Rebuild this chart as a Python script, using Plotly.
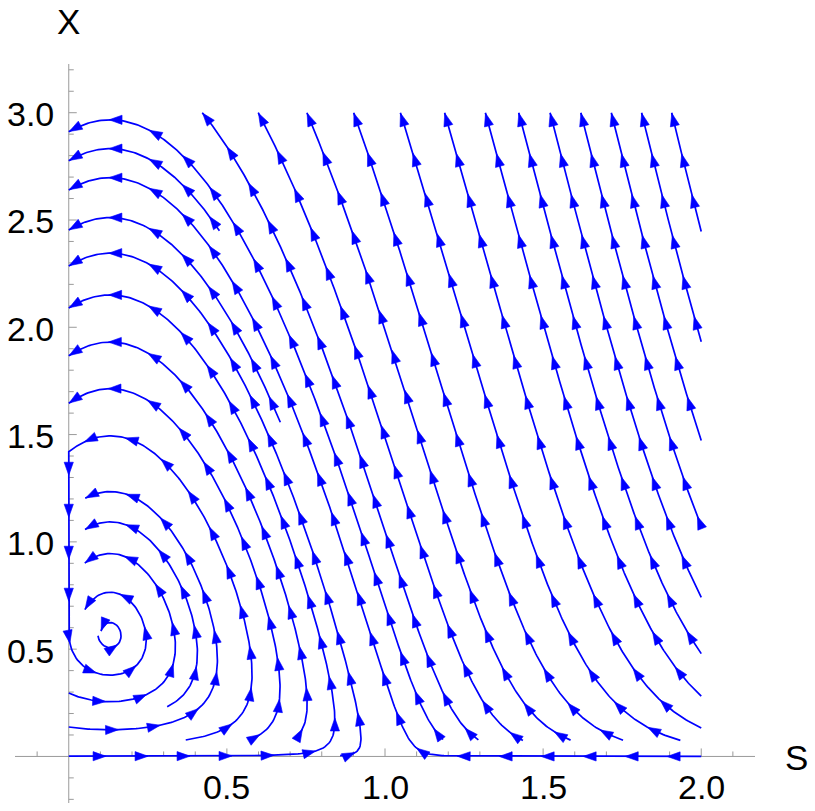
import math
import numpy as np
import plotly.graph_objects as go

# ---------------- values ----------------
s_axis_range = [-0.17, 2.17]          # extent of the horizontal (S) axis
x_axis_range = [-0.217, 3.227]        # extent of the vertical (X) axis
stream_s_range = [0.0, 2.0]           # region covered by streamlines
stream_x_range = [0.0, 3.0]

s_tick_values = [0.5, 1.0, 1.5, 2.0]
s_tick_labels = ["0.5", "1.0", "1.5", "2.0"]
x_tick_values = [0.5, 1.0, 1.5, 2.0, 2.5, 3.0]
x_tick_labels = ["0.5", "1.0", "1.5", "2.0", "2.5", "3.0"]
s_minor_ticks = [-0.1, 0.1, 0.2, 0.3, 0.4, 0.6, 0.7, 0.8, 0.9, 1.1, 1.2, 1.3, 1.4,
                 1.6, 1.7, 1.8, 1.9, 2.1]
x_minor_ticks = [-0.2, -0.1, 0.1, 0.2, 0.3, 0.4, 0.6, 0.7, 0.8, 0.9, 1.1, 1.2, 1.3, 1.4,
                 1.6, 1.7, 1.8, 1.9, 2.1, 2.2, 2.3, 2.4, 2.6, 2.7, 2.8, 2.9, 3.1, 3.2]

# vector field estimated from the streamline directions:
#   dS/dt = 1 - S^2 - a*X        dX/dt = X*(c*S - d)
field_a = 1.73
field_c = 9.0
field_d = 1.18

# streamlines whose start can be read in the picture (traced in this order)
seed_s = [0.33, 1.999, 0.0]
seed_x = [0.0013, 0.000001, 1.42]
seed_slides_on_axis = [False, False, True]

# ---------------- layout geometry ----------------
W, H = 815, 811
ML, MR, MT, MB = 14.7, 60.1, 64.0, 7.9
PW = W - ML - MR
PH = H - MT - MB
KX = PW / (s_axis_range[1] - s_axis_range[0])   # px per unit S
KY = PH / (x_axis_range[1] - x_axis_range[0])   # px per unit X

U_MAX = stream_s_range[1] * KX
W_MAX = stream_x_range[1] * KY
S_EQ = field_d / field_c
X_EQ = (1 - S_EQ ** 2) / field_a
U_EQ, W_EQ = S_EQ * KX, X_EQ * KY

D_SEP = 29.0
D_TEST = 16.0
STEP = 1.0
SELF_GAP = 70.0
MAX_STEPS = 6000
MIN_LEN = 22.0


def vel(u, w, sign, slide):
    S = u / KX
    X = w / KY
    dS = 1 - S * S - field_a * X
    dX = X * (field_c * S - field_d)
    vu = sign * dS * KX
    vw = sign * dX * KY
    if slide and u <= 1e-9 and vu < 0:
        vu = 0.0
    n = math.hypot(vu, vw)
    if n < 1e-12:
        return (0.0, 0.0)
    return (vu / n, vw / n)


def rk4(u, w, sign, slide):
    k1 = vel(u, w, sign, slide)
    if k1 == (0.0, 0.0):
        return None
    h = STEP
    cl = (lambda x: max(x, 0.0)) if slide else (lambda x: x)
    k2 = vel(cl(u + 0.5 * h * k1[0]), w + 0.5 * h * k1[1], sign, slide)
    k3 = vel(cl(u + 0.5 * h * k2[0]), w + 0.5 * h * k2[1], sign, slide)
    k4 = vel(cl(u + h * k3[0]), w + h * k3[1], sign, slide)
    nu = u + h / 6 * (k1[0] + 2 * k2[0] + 2 * k3[0] + k4[0])
    nw = w + h / 6 * (k1[1] + 2 * k2[1] + 2 * k3[1] + k4[1])
    if slide:
        nu = max(nu, 0.0)
    return nu, nw


class Grid:
    def __init__(self, cell):
        self.cell = cell
        self.cells = {}

    def add(self, u, w, lid, s):
        key = (int(u // self.cell), int(w // self.cell))
        self.cells.setdefault(key, []).append((u, w, lid, s))

    def near(self, u, w, r, s=None, gap=None):
        ci, cj = int(u // self.cell), int(w // self.cell)
        r2 = r * r
        for i in (ci - 1, ci, ci + 1):
            for j in (cj - 1, cj, cj + 1):
                for (pu, pw, plid, ps) in self.cells.get((i, j), ()):
                    if (pu - u) ** 2 + (pw - w) ** 2 < r2:
                        if gap is not None and abs(ps - s) < gap:
                            continue
                        return True
        return False


grid = Grid(D_SEP)
lines = []


def in_domain(u, w):
    return 0.0 <= u <= U_MAX and 0.0 <= w <= W_MAX


def integrate(u0, w0, sign, slide, own, s_sign):
    pts = []
    u, w = u0, w0
    s = 0.0
    for _ in range(MAX_STEPS):
        r = rk4(u, w, sign, slide)
        if r is None:
            break
        nu, nw = r
        if not in_domain(nu, nw):
            t = 1.0
            du, dw = nu - u, nw - w
            if nu < 0 and du != 0:
                t = min(t, (0 - u) / du)
            if nu > U_MAX and du != 0:
                t = min(t, (U_MAX - u) / du)
            if nw < 0 and dw != 0:
                t = min(t, (0 - w) / dw)
            if nw > W_MAX and dw != 0:
                t = min(t, (W_MAX - w) / dw)
            pts.append((u + t * du, w + t * dw))
            break
        s += STEP
        if math.hypot(nu - U_EQ, nw - W_EQ) < 3.0:
            break
        if grid.near(nu, nw, D_TEST):
            break
        if own.near(nu, nw, D_TEST, s_sign * s, SELF_GAP):
            break
        pts.append((nu, nw))
        own.add(nu, nw, -1, s_sign * s)
        u, w = nu, nw
    return pts


def trace(u0, w0, slide=False):
    own = Grid(D_SEP)
    own.add(u0, w0, -1, 0.0)
    fwd = integrate(u0, w0, +1, slide, own, +1)
    bwd = integrate(u0, w0, -1, False, own, -1)
    return bwd[::-1] + [(u0, w0)] + fwd


def length(pts):
    a = np.asarray(pts)
    if len(a) < 2:
        return 0.0
    return float(np.hypot(*np.diff(a, axis=0).T).sum())


def add_line(pts):
    lid = len(lines)
    lines.append(pts)
    for (u, w) in pts:
        grid.add(u, w, lid, 0.0)
    return lid


queue = []
for s0, x0, sl in zip(seed_s, seed_x, seed_slides_on_axis):
    u0, w0 = s0 * KX, x0 * KY
    pts = trace(u0, w0, slide=sl)
    if length(pts) >= MIN_LEN:
        queue.append(add_line(pts))


def run_queue():
    while queue:
        lid = queue.pop(0)
        pts = lines[lid]
        n = len(pts)
        for k in range(2, n - 2, 4):
            tu = pts[k + 2][0] - pts[k - 2][0]
            tw = pts[k + 2][1] - pts[k - 2][1]
            tn = math.hypot(tu, tw)
            if tn < 1e-9:
                continue
            nu_, nw_ = -tw / tn, tu / tn
            for sg in (1, -1):
                cu = pts[k][0] + sg * D_SEP * nu_
                cw = pts[k][1] + sg * D_SEP * nw_
                if not (1.0 < cu < U_MAX - 1.0 and 1.0 < cw < W_MAX - 1.0):
                    continue
                if grid.near(cu, cw, D_SEP * 0.98):
                    continue
                if math.hypot(cu - U_EQ, cw - W_EQ) < 6:
                    continue
                newp = trace(cu, cw)
                if length(newp) >= MIN_LEN:
                    queue.append(add_line(newp))


run_queue()
for gu in np.arange(6.0, U_MAX, 14.0):
    for gw in np.arange(6.0, W_MAX, 14.0):
        if grid.near(gu, gw, D_SEP * 0.98):
            continue
        if math.hypot(gu - U_EQ, gw - W_EQ) < 6:
            continue
        newp = trace(gu, gw)
        if length(newp) >= MIN_LEN:
            queue.append(add_line(newp))
            run_queue()

# ---------------- build traces ----------------
BLUE = "#0000ff"
line_x, line_y = [], []
arrow_x, arrow_y = [], []
ARROW_GAP = 42.0
ARROW_LEN = 13.0
ARROW_HALF = 4.6

for pts in lines:
    a = np.asarray(pts)
    sub = a[::2]
    if not np.allclose(sub[-1], a[-1]):
        sub = np.vstack([sub, a[-1]])
    line_x.extend((sub[:, 0] / KX).tolist() + [None])
    line_y.extend((sub[:, 1] / KY).tolist() + [None])
    seg = np.hypot(*np.diff(a, axis=0).T)
    cum = np.concatenate([[0.0], np.cumsum(seg)])
    total = cum[-1]
    pos = total - 0.5
    while pos > 10.0:
        idx = int(np.searchsorted(cum, pos))
        idx = min(max(idx, 1), len(a) - 1)
        f = (pos - cum[idx - 1]) / max(cum[idx] - cum[idx - 1], 1e-9)
        p = a[idx - 1] + f * (a[idx] - a[idx - 1])
        i0 = max(idx - 4, 0)
        t = a[idx] - a[i0]
        tn = np.hypot(*t)
        if tn > 1e-9:
            t = t / tn
            nvec = np.array([-t[1], t[0]])
            base = p - ARROW_LEN * t
            l_ = base + ARROW_HALF * nvec
            r_ = base - ARROW_HALF * nvec
            for q in (p, l_, r_, p):
                arrow_x.append(q[0] / KX)
                arrow_y.append(q[1] / KY)
            arrow_x.append(None)
            arrow_y.append(None)
        pos -= ARROW_GAP

fig = go.Figure()
fig.add_trace(go.Scatter(x=line_x, y=line_y, mode="lines",
                         line=dict(color=BLUE, width=1.7), hoverinfo="skip",
                         showlegend=False))
fig.add_trace(go.Scatter(x=arrow_x, y=arrow_y, mode="lines", fill="toself",
                         fillcolor=BLUE, line=dict(color=BLUE, width=0.6),
                         hoverinfo="skip", showlegend=False))

AX_COLOR = "#9a9a9a"
shapes = [
    dict(type="line", xref="x", yref="y", x0=s_axis_range[0], x1=s_axis_range[1],
         y0=0, y1=0, line=dict(color=AX_COLOR, width=1), layer="below"),
    dict(type="line", xref="x", yref="y", x0=0, x1=0,
         y0=x_axis_range[0], y1=x_axis_range[1], line=dict(color=AX_COLOR, width=1),
         layer="below"),
]
MAJOR_PX, MINOR_PX = 8.0, 5.0
for v in s_tick_values:
    shapes.append(dict(type="line", xref="x", yref="y", x0=v, x1=v, y0=0, y1=MAJOR_PX / KY,
                       line=dict(color=AX_COLOR, width=1), layer="below"))
for v in s_minor_ticks:
    shapes.append(dict(type="line", xref="x", yref="y", x0=v, x1=v, y0=0, y1=MINOR_PX / KY,
                       line=dict(color=AX_COLOR, width=1), layer="below"))
for v in x_tick_values:
    shapes.append(dict(type="line", xref="x", yref="y", x0=0, x1=MAJOR_PX / KX, y0=v, y1=v,
                       line=dict(color=AX_COLOR, width=1), layer="below"))
for v in x_minor_ticks:
    shapes.append(dict(type="line", xref="x", yref="y", x0=0, x1=MINOR_PX / KX, y0=v, y1=v,
                       line=dict(color=AX_COLOR, width=1), layer="below"))


def paper_x(s):
    return (s - s_axis_range[0]) / (s_axis_range[1] - s_axis_range[0])


def paper_y(x):
    return (x - x_axis_range[0]) / (x_axis_range[1] - x_axis_range[0])


FONT = "Liberation Sans, Arial, sans-serif"
annotations = []
for v, lab in zip(s_tick_values, s_tick_labels):
    annotations.append(dict(x=paper_x(v), y=paper_y(-31.0 / KY), xref="paper", yref="paper",
                            text=lab, showarrow=False, xanchor="center", yanchor="middle",
                            font=dict(family=FONT, size=34, color="black")))
for v, lab in zip(x_tick_values, x_tick_labels):
    annotations.append(dict(x=paper_x(-13.0 / KX), y=paper_y(v - 1.5 / KY), xref="paper",
                            yref="paper", text=lab, showarrow=False, xanchor="right",
                            yanchor="middle", font=dict(family=FONT, size=34, color="black")))
annotations.append(dict(x=paper_x(0), y=paper_y(x_axis_range[1] + 43.0 / KY), xref="paper",
                        yref="paper", text="X", showarrow=False, xanchor="center",
                        yanchor="middle", font=dict(family=FONT, size=35, color="black")))
annotations.append(dict(x=paper_x(s_axis_range[1] + 42.0 / KX), y=paper_y(-1.0 / KY),
                        xref="paper", yref="paper", text="S", showarrow=False,
                        xanchor="center", yanchor="middle",
                        font=dict(family=FONT, size=35, color="black")))

fig.update_layout(
    width=W, height=H, autosize=False,
    margin=dict(l=ML, r=MR, t=MT, b=MB, pad=0),
    paper_bgcolor="white", plot_bgcolor="white",
    xaxis=dict(range=s_axis_range, showgrid=False, zeroline=False, showline=False,
               showticklabels=False, ticks="", fixedrange=True),
    yaxis=dict(range=x_axis_range, showgrid=False, zeroline=False, showline=False,
               showticklabels=False, ticks="", fixedrange=True),
    shapes=shapes, annotations=annotations, showlegend=False,
)
fig.write_html("out.html",
               config={"displayModeBar": False, "staticPlot": True},
               post_script="document.body.style.margin='0';"
                           "document.body.style.overflow='hidden';")
